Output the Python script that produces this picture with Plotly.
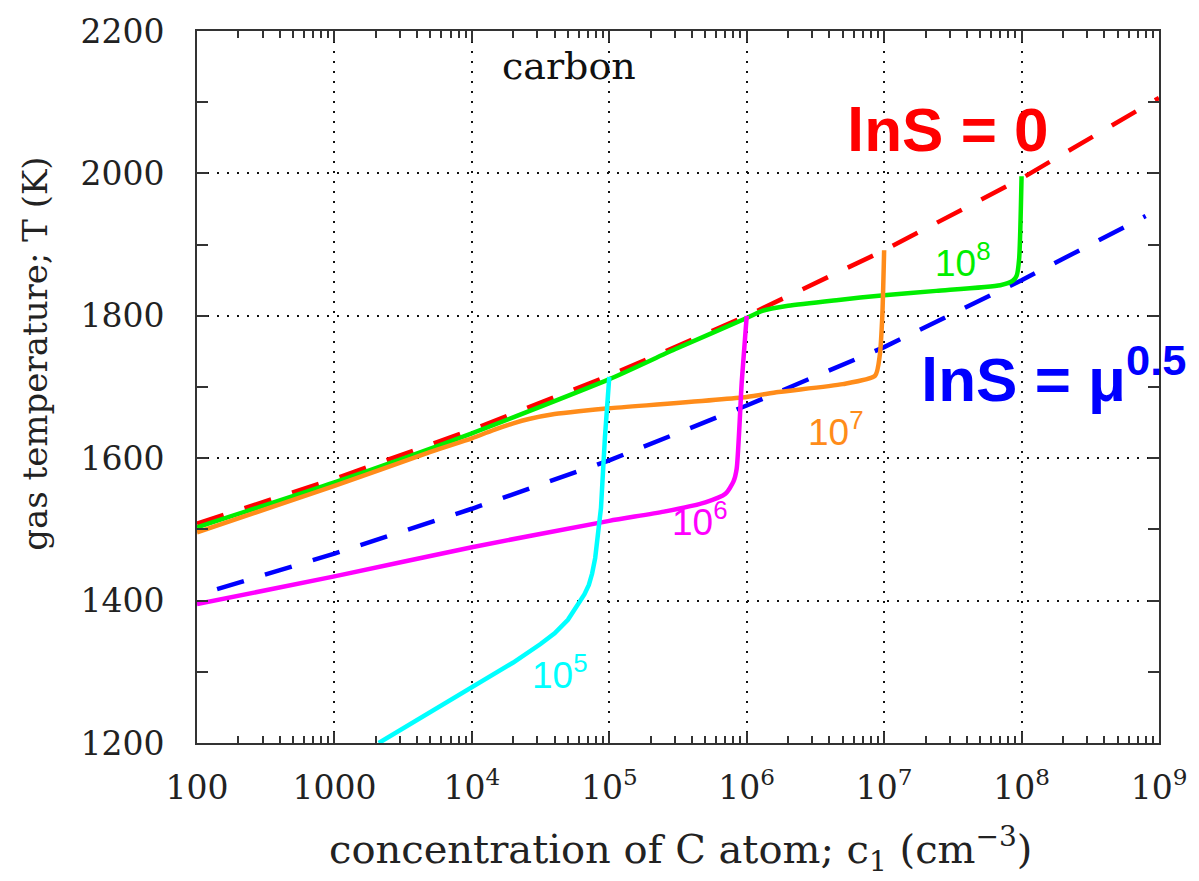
import plotly.graph_objects as go

# ---- data ----
x_lnS0 = [1e2, 1e3, 1e4, 1e5, 1e6, 1e7, 1e8, 1e9]
T_lnS0 = [1508, 1571, 1640, 1716, 1800, 1892, 1993, 2106]

x_lnSmu = [140, 1e3, 1e4, 1e5, 1e6, 1e7, 1e8, 8e8]
T_lnSmu = [1416, 1466, 1529, 1597, 1674, 1756, 1850, 1940]

x_c8 = [1e2, 1e3, 1e4, 1e5, 3e5, 1e6, 1.3e6, 2e6, 4.5e6, 1e7, 2.4e7, 7e7, 8.6e7, 9.2e7, 9.6e7, 1.0e8]
T_c8 = [1503, 1566, 1635, 1711, 1753, 1797, 1807, 1814, 1822, 1829, 1835, 1843, 1849, 1856, 1880, 1996]

x_c7 = [1e2, 1e3, 5e3, 1e4, 1.5e4, 2e4, 2.6e4, 4e4, 6e4, 1e5, 1e6, 1.7e6, 5e6, 8.6e6, 9.3e6, 9.7e6, 1.0e7]
T_c7 = [1496, 1561, 1609, 1628, 1641, 1649, 1655, 1662, 1666, 1670, 1686, 1693, 1704, 1716, 1745, 1800, 1892]

x_c6 = [1e2, 1e3, 1e4, 1e5, 2.5e5, 5e5, 7e5, 8e5, 8.45e5, 9.2e5, 1.0e6]
T_c6 = [1395, 1434, 1475, 1512, 1525, 1538, 1550, 1567, 1585, 1707, 1800]

x_c5 = [2.1e3, 4e3, 1e4, 2e4, 3.16e4, 4e4, 5e4, 6e4, 6.6e4, 7.1e4, 7.5e4, 7.9e4, 8.3e4, 8.7e4, 9.3e4, 1.0e5]
T_c5 = [1200, 1232, 1277, 1313, 1339, 1354, 1373, 1396, 1409, 1422, 1438, 1460, 1490, 1530, 1630, 1714]

x_ticks = [1e2, 1e3, 1e4, 1e5, 1e6, 1e7, 1e8, 1e9]
x_ticktext = ["100", "1000", "10<sup>4</sup>", "10<sup>5</sup>", "10<sup>6</sup>",
              "10<sup>7</sup>", "10<sup>8</sup>", "10<sup>9</sup>"]
x_minor = [m * 10 ** e for e in range(2, 9) for m in range(2, 10)]
y_ticks = [1200, 1400, 1600, 1800, 2000, 2200]
y_minor = [1300, 1500, 1700, 1900, 2100]

RED, BLUE = "#ff0000", "#0000ff"
GREEN, ORANGE, MAGENTA, CYAN = "#00ee00", "#ff8c1a", "#ff00ff", "#00ffff"

fig = go.Figure()
fig.add_trace(go.Scatter(x=x_lnS0, y=T_lnS0, mode="lines",
                         line=dict(color=RED, width=4.5, dash="28px,22px")))
fig.add_trace(go.Scatter(x=x_lnSmu, y=T_lnSmu, mode="lines",
                         line=dict(color=BLUE, width=4.5, dash="28px,22px")))
for xs, ys, col, shp in [(x_c8, T_c8, GREEN, "spline"), (x_c7, T_c7, ORANGE, "spline"),
                         (x_c6, T_c6, MAGENTA, "spline"), (x_c5, T_c5, CYAN, "linear")]:
    line = dict(color=col, width=4.5, shape=shp)
    if shp == "spline":
        line["smoothing"] = 0.6
    fig.add_trace(go.Scatter(x=xs, y=ys, mode="lines", line=line))

L, R, T, B = 197, 1165, 26, 743
W, H = 1199, 881


def px(x):
    return (x - L) / (R - L)


def py(y):
    return (B - y) / (B - T)


tickfont = dict(family="DejaVu Serif", size=33, color="#222")
axis_common = dict(showline=True, linecolor="#333", linewidth=2, mirror="allticks",
                   ticks="inside", ticklen=11, tickwidth=1.5, tickcolor="#333",
                   showgrid=True, gridcolor="#111", gridwidth=2, griddash="2px,8px",
                   zeroline=False, tickfont=tickfont)

fig.update_xaxes(type="log", range=[2, 9], tickmode="array", tickvals=x_ticks,
                 ticktext=x_ticktext,
                 minor=dict(ticks="inside", ticklen=7, tickwidth=1.5, tickcolor="#333",
                            tickvals=x_minor, showgrid=False),
                 ticklabelstandoff=14, **axis_common)
fig.update_yaxes(range=[1200, 2200], tickmode="array", tickvals=y_ticks,
                 minor=dict(ticks="inside", ticklen=11, tickwidth=1.5, tickcolor="#333",
                            tickvals=y_minor, showgrid=False),
                 ticklabelstandoff=24, **axis_common)

ann = []


def add(text, x, y, size, color, family="Liberation Sans", angle=0, bold=False):
    if bold:
        text = "<b>" + text + "</b>"
    ann.append(dict(text=text, x=px(x), y=py(y), xref="paper", yref="paper",
                    xanchor="center", yanchor="middle", showarrow=False, textangle=angle,
                    font=dict(family=family, size=size, color=color)))


add("carbon", 571, 61, 38, "#111", family="DejaVu Serif")
add("lnS = 0", 953, 125, 62, RED, bold=True)
add("lnS = μ<sup>0.5</sup>", 1059, 372, 62, BLUE, bold=True)
add("10<sup>8</sup>", 968, 257, 37, GREEN)
add("10<sup>7</sup>", 840, 427, 37, ORANGE)
add("10<sup>6</sup>", 703, 518, 37, MAGENTA)
add("10<sup>5</sup>", 562, 672, 37, CYAN)
add("concentration of C atom; c<sub>1</sub> (cm<sup>−3</sup>)", 684, 850, 40, "#222",
    family="DejaVu Serif")
add("gas temperature; T (K)", 34, 351, 34, "#222", family="DejaVu Serif", angle=-90)

fig.update_layout(width=W, height=H, margin=dict(l=L, r=W - R, t=T, b=H - B),
                  plot_bgcolor="white", paper_bgcolor="white", showlegend=False,
                  annotations=ann)

fig.write_html("out.html")
